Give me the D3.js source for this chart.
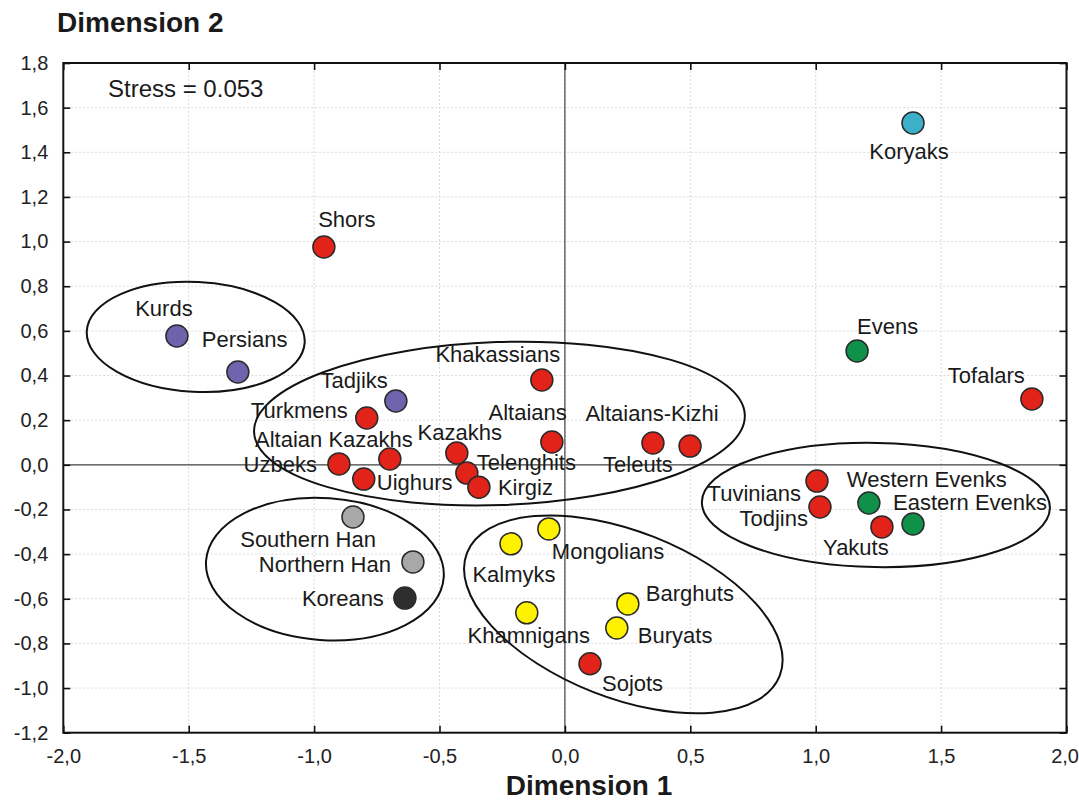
<!DOCTYPE html>
<html>
<head>
<meta charset="utf-8">
<script src="https://cdn.jsdelivr.net/npm/d3@7"></script>
<style>
  html, body { margin: 0; padding: 0; background: #fff; }
  svg { display: block; font-family: "Liberation Sans", Arial, sans-serif; }
</style>
</head>
<body>
<svg id="chart" width="1079" height="802"></svg>
<script>
// ---------- data ----------
const populations = ["Koryaks","Shors","Kurds","Persians","Tadjiks","Khakassians","Evens","Tofalars",
  "Turkmens","Altaians","Altaians-Kizhi","Teleuts","Altaian Kazakhs","Uzbeks","Uighurs","Kazakhs",
  "Telenghits","Kirgiz","Tuvinians","Todjins","Western Evenks","Eastern Evenks","Yakuts",
  "Southern Han","Northern Han","Koreans","Mongolians","Kalmyks","Khamnigans","Barghuts","Buryats","Sojots"];
const dim1 = [1.388,-0.961,-1.547,-1.304,-0.674,-0.092,1.165,1.862,
  -0.790,-0.052,0.499,0.351,-0.698,-0.901,-0.802,-0.431,
  -0.391,-0.343,1.005,1.017,1.212,1.388,1.264,
  -0.845,-0.606,-0.638,-0.064,-0.215,-0.152,0.251,0.207,0.100];
const dim2 = [1.531,0.976,0.577,0.416,0.286,0.380,0.510,0.295,
  0.210,0.102,0.084,0.098,0.026,0.004,-0.064,0.053,
  -0.037,-0.100,-0.073,-0.189,-0.171,-0.265,-0.278,
  -0.234,-0.435,-0.597,-0.287,-0.354,-0.663,-0.623,-0.731,-0.891];
const groups = ["cyan","red","purple","purple","purple","red","green","red",
  "red","red","red","red","red","red","red","red",
  "red","red","red","red","green","green","red",
  "gray","gray","dark","yellow","yellow","yellow","yellow","yellow","red"];

// cluster ellipses (centre and semi-axes in data units, tilt in degrees)
const ellipseCx = [-1.472, -0.261, -0.957, 0.233, 1.240];
const ellipseCy = [0.573, 0.185, -0.467, -0.670, -0.180];
const ellipseRx = [0.435, 0.979, 0.475, 0.670, 0.694];
const ellipseRy = [0.246, 0.365, 0.318, 0.373, 0.278];
const ellipseTilt = [3, -2, 4, 21.5, 1];

const xTicks = [-2.0,-1.5,-1.0,-0.5,0.0,0.5,1.0,1.5,2.0];
const yTicks = [1.8,1.6,1.4,1.2,1.0,0.8,0.6,0.4,0.2,0.0,-0.2,-0.4,-0.6,-0.8,-1.0,-1.2];
const stressText = "Stress = 0.053";
const xTitle = "Dimension 1";
const yTitle = "Dimension 2";

// ---------- styles / layout ----------
const colors = {red:"#e2231a", purple:"#6e63ad", gray:"#a8a8a8", dark:"#2e2e2e",
  yellow:"#fff200", green:"#10914a", cyan:"#3cb0c8"};
// label placement relative to the point (px): dx, dy (baseline), anchor
const labelPos = {
  "Koryaks":[-4,36,"middle"], "Shors":[23,-20,"middle"], "Kurds":[-13,-20,"middle"],
  "Persians":[-36,-25,"start"], "Tadjiks":[-8,-13,"end"], "Khakassians":[-44,-18,"middle"],
  "Evens":[0,-17,"start"], "Tofalars":[-7,-16,"end"], "Turkmens":[-19,0,"end"],
  "Altaians":[15,-22,"end"], "Altaians-Kizhi":[-38,-25,"middle"], "Teleuts":[-15,29,"middle"],
  "Altaian Kazakhs":[23,-12,"end"], "Uzbeks":[-22,8,"end"], "Uighurs":[13,11,"start"],
  "Kazakhs":[3,-13,"middle"], "Telenghits":[10,-3,"start"], "Kirgiz":[19,8,"start"],
  "Tuvinians":[-16,20,"end"], "Todjins":[-12,19,"end"], "Western Evenks":[-22,-16,"start"],
  "Eastern Evenks":[-20,-14,"start"], "Yakuts":[-26,28,"middle"], "Southern Han":[23,30,"end"],
  "Northern Han":[-22,10,"end"], "Koreans":[-21,8,"end"], "Mongolians":[3,30,"start"],
  "Kalmyks":[3,38,"middle"], "Khamnigans":[2,30,"middle"], "Barghuts":[18,-3,"start"],
  "Buryats":[21,15,"start"], "Sojots":[12,27,"start"]
};

const plotL = 63.3, plotR = 1066.5, plotT = 63, plotB = 732.7;

const svg = d3.select("#chart");
const x = d3.scaleLinear().domain([-2, 2]).range([plotL, plotR]);
const y = d3.scaleLinear().domain([-1.2, 1.8]).range([plotB, plotT]);
const fmt = v => d3.format(".1f")(v).replace(".", ",").replace("\u2212", "-");

// grid (dotted)
const grid = svg.append("g");
grid.selectAll(".gx").data(xTicks.slice(1, -1)).join("line")
  .attr("x1", d => x(d)).attr("x2", d => x(d)).attr("y1", plotT).attr("y2", plotB)
  .attr("stroke", "#d9d9d9").attr("stroke-width", 1).attr("stroke-dasharray", "2,2");
grid.selectAll(".gy").data(yTicks.slice(1, -1)).join("line")
  .attr("y1", d => y(d)).attr("y2", d => y(d)).attr("x1", plotL).attr("x2", plotR)
  .attr("stroke", "#d9d9d9").attr("stroke-width", 1).attr("stroke-dasharray", "2,2");

// zero lines
svg.append("line").attr("x1", x(0)).attr("x2", x(0)).attr("y1", plotT).attr("y2", plotB)
  .attr("stroke", "#444").attr("stroke-width", 1.2);
svg.append("line").attr("x1", plotL).attr("x2", plotR).attr("y1", y(0)).attr("y2", y(0))
  .attr("stroke", "#444").attr("stroke-width", 1.2);

// axes with inward ticks on all sides
const tickLen = 7;
const axB = svg.append("g").attr("transform", `translate(0,${plotB})`)
  .call(d3.axisBottom(x).tickValues(xTicks).tickSize(-tickLen).tickPadding(16).tickFormat(fmt));
const axT = svg.append("g").attr("transform", `translate(0,${plotT})`)
  .call(d3.axisTop(x).tickValues(xTicks).tickSize(-tickLen).tickFormat(""));
const axL = svg.append("g").attr("transform", `translate(${plotL},0)`)
  .call(d3.axisLeft(y).tickValues(yTicks).tickSize(-tickLen).tickPadding(15).tickFormat(fmt));
const axR = svg.append("g").attr("transform", `translate(${plotR},0)`)
  .call(d3.axisRight(y).tickValues(yTicks).tickSize(-tickLen).tickFormat(""));
[axB, axT, axL, axR].forEach(a => {
  a.select(".domain").remove();
  a.selectAll(".tick line").attr("stroke", "#111").attr("stroke-width", 1.6);
  a.selectAll("text").attr("font-family", "'Liberation Sans', Arial, sans-serif")
    .attr("font-size", 20).attr("fill", "#222");
});
// keep the last bottom tick label inside the page edge
axB.selectAll(".tick text").filter(d => d === 2).attr("text-anchor", "end").attr("x", 12);

// frame
svg.append("rect").attr("x", plotL).attr("y", plotT).attr("width", plotR - plotL).attr("height", plotB - plotT)
  .attr("fill", "none").attr("stroke", "#111").attr("stroke-width", 2);

// ellipses
const ell = d3.range(ellipseCx.length).map(i => ({cx: ellipseCx[i], cy: ellipseCy[i],
  rx: ellipseRx[i], ry: ellipseRy[i], t: ellipseTilt[i]}));
svg.append("g").selectAll("ellipse").data(ell).join("ellipse")
  .attr("transform", d => `translate(${x(d.cx)},${y(d.cy)}) rotate(${d.t})`)
  .attr("rx", d => x(d.rx) - x(0)).attr("ry", d => y(0) - y(d.ry))
  .attr("fill", "none").attr("stroke", "#111").attr("stroke-width", 2);

// points
const pts = populations.map((p, i) => ({name: p, d1: dim1[i], d2: dim2[i], g: groups[i]}));
svg.append("g").selectAll("circle").data(pts).join("circle")
  .attr("cx", d => x(d.d1)).attr("cy", d => y(d.d2)).attr("r", 11)
  .attr("fill", d => colors[d.g]).attr("stroke", "#2a2a2a").attr("stroke-width", 1.5);

// labels
svg.append("g").selectAll("text").data(pts).join("text")
  .attr("x", d => x(d.d1) + labelPos[d.name][0])
  .attr("y", d => y(d.d2) + labelPos[d.name][1])
  .attr("text-anchor", d => labelPos[d.name][2])
  .attr("font-size", 22).attr("fill", "#1a1a1a")
  .text(d => d.name);

// stress note
svg.append("text").attr("x", 108).attr("y", 97).attr("font-size", 24).attr("fill", "#1a1a1a").text(stressText);

// titles
svg.append("text").attr("x", 57).attr("y", 32).attr("font-size", 28).attr("font-weight", "bold")
  .attr("fill", "#1a1a1a").text(yTitle);
svg.append("text").attr("x", 589).attr("y", 795).attr("text-anchor", "middle").attr("font-size", 28)
  .attr("font-weight", "bold").attr("fill", "#1a1a1a").text(xTitle);
</script>
</body>
</html>
